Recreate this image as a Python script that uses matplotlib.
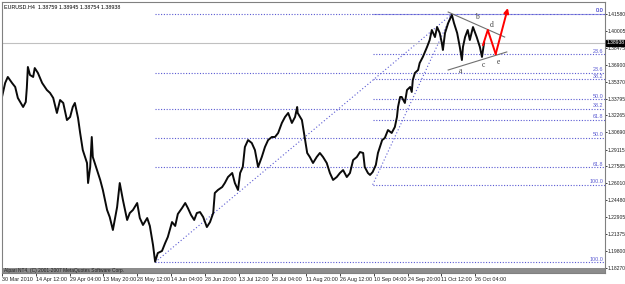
import matplotlib
matplotlib.use("Agg")
import matplotlib.pyplot as plt

plt.rcParams['font.family'] = ['Liberation Sans', 'DejaVu Sans']
fs = 3.9

# EURUSD H4 closes (bar index, price)
bars = [0, 6, 11, 19, 25, 30, 38, 40, 45, 47, 49, 53, 59, 62, 68, 76, 85, 91, 97, 104,
        110, 116, 123, 129, 134, 138, 144, 148, 153, 161, 163, 167, 170, 172, 180, 186, 191, 199, 204, 210,
        218, 223, 229, 237, 242, 248, 256, 261, 267, 275, 280, 286, 290, 295, 303, 309, 314, 322, 328, 333,
        341, 347, 352, 358, 364, 369, 375, 381, 388, 394, 400, 403, 409, 417, 422, 428, 436, 441, 447, 451,
        456, 460, 466, 473, 479, 485, 492, 498, 504, 511, 517, 523, 530, 536, 542, 549, 555, 559, 560, 568,
        572, 578, 583, 589, 596, 602, 608, 615, 621, 627, 634, 640, 646, 653, 659, 665, 672, 678, 684, 687,
        693, 697, 702, 708, 712, 720, 725, 731, 738, 744, 748, 750, 754, 757, 763, 767, 773, 776, 778, 782,
        788, 791, 797, 805, 810, 814, 820, 824, 829, 833, 835, 839, 845, 852, 856, 862, 867, 871, 873, 877,
        882, 886, 892, 899, 905, 909, 913]
closes = [1.3395, 1.3524, 1.3579, 1.3524, 1.3487, 1.3386, 1.3321, 1.3303, 1.3349, 1.3478, 1.3671, 1.3597, 1.3579, 1.3661, 1.3616, 1.3524, 1.3459, 1.3432, 1.3386, 1.3248,
          1.3367, 1.3340, 1.3183, 1.3211, 1.3303, 1.3340, 1.3202, 1.3064, 1.2907, 1.2788, 1.2604, 1.2751, 1.3027, 1.2843, 1.2723, 1.2632, 1.2540, 1.2356, 1.2291, 1.2172,
          1.2383, 1.2604, 1.2448, 1.2264, 1.2328, 1.2356, 1.2420, 1.2282, 1.2218, 1.2282, 1.2209, 1.2034, 1.1880, 1.1960, 1.1979, 1.2052, 1.2107, 1.2245, 1.2209, 1.2319,
          1.2374, 1.2420, 1.2374, 1.2310, 1.2264, 1.2328, 1.2337, 1.2291, 1.2199, 1.2245, 1.2328, 1.2512, 1.2540, 1.2567, 1.2604, 1.2659, 1.2696, 1.2604, 1.2540, 1.2696,
          1.2751, 1.2935, 1.2999, 1.2972, 1.2907, 1.2751, 1.2843, 1.2935, 1.2999, 1.3027, 1.3027, 1.3064, 1.3156, 1.3211, 1.3248, 1.3156, 1.3211, 1.3303, 1.3248, 1.3183,
          1.3064, 1.2880, 1.2843, 1.2788, 1.2843, 1.2880, 1.2843, 1.2788, 1.2696, 1.2632, 1.2659, 1.2696, 1.2723, 1.2659, 1.2696, 1.2815, 1.2843, 1.2889, 1.2880, 1.2751,
          1.2696, 1.2678, 1.2705, 1.2770, 1.2880, 1.2999, 1.3018, 1.3091, 1.3064, 1.3119, 1.3211, 1.3303, 1.3395, 1.3395, 1.3340, 1.3459, 1.3487, 1.3441, 1.3551, 1.3616,
          1.3643, 1.3707, 1.3763, 1.3855, 1.3919, 1.4011, 1.3946, 1.4038, 1.3983, 1.3891, 1.3827, 1.3983, 1.4075, 1.4150, 1.4075, 1.3983, 1.3855, 1.3735, 1.3855, 1.3946,
          1.4011, 1.3919, 1.4038, 1.3946, 1.3855, 1.3763, 1.3894]

title_txt = "EURUSD.H4  1.38759 1.38945 1.38754 1.38938"
last_price = 1.38938
price_ticks = [1.41580, 1.40005, 1.38475, 1.36900, 1.35370, 1.33795, 1.32265, 1.30690,
               1.29115, 1.27585, 1.26010, 1.24480, 1.22905, 1.21375, 1.19800, 1.18270]
date_ticks = [0, 64, 128, 192, 256, 320, 384, 448, 512, 576, 640, 704, 768, 832, 896]
date_labels = ["30 Mar 2010", "14 Apr 12:00", "29 Apr 04:00", "13 May 20:00", "28 May 12:00",
               "14 Jun 04:00", "28 Jun 20:00", "13 Jul 12:00", "28 Jul 04:00", "11 Aug 20:00",
               "26 Aug 12:00", "10 Sep 04:00", "24 Sep 20:00", "11 Oct 12:00", "26 Oct 04:00"]

# fibonacci retracements: (start bar, low) -> (end bar, high)
fib_levels = [0.0, 23.6, 38.2, 50.0, 61.8, 100.0]
fib1 = (290, 1.1876, 852, 1.4157)
fib2 = (702, 1.2588, 852, 1.4157)

# triangle a-b-c-d-e
tri_upper = ([845, 952], [1.4176, 1.3946])
tri_lower = ([845, 956], [1.3643, 1.3809])
wave_names = ["a", "b", "c", "d", "e"]
wave_bars = [869, 899, 911, 928, 941]
wave_prices = [1.3634, 1.4130, 1.3689, 1.4057, 1.3716]
proj_bars = [911, 920, 935, 958]
proj_prices = [1.3873, 1.4011, 1.3790, 1.4213]

fig = plt.figure(figsize=(6.25, 2.84), dpi=100)
ax = fig.add_axes([2 / 625, 11 / 284, 603 / 625, 271 / 284])
ax.set_xlim(0, 1142)
ax.set_ylim(1.17765, 1.42683)

fibc = '#5a5ad2'
for (b0, p0, b1, p1) in [fib1, fib2]:
    ax.plot([b0, b1], [p0, p1], ls=(0, (1, 2)), color=fibc, lw=0.8)
    for lv in fib_levels:
        y = p1 - (p1 - p0) * lv / 100
        ax.plot([b0, 1142], [y, y], ls=(0, (1, 1.5)), color=fibc, lw=0.8)
        ax.text(1139, y + 0.0006, "%.1f" % lv, ha='right', va='bottom', fontsize=fs, color=fibc)

# current price line
ax.axhline(last_price, color='#c0c0c0', lw=0.8)

ax.plot(bars, closes, color='#0a0a0a', lw=1.4)

ax.plot(*tri_upper, color='#707070', lw=0.8)
ax.plot(*tri_lower, color='#707070', lw=0.8)
for n, b, p in zip(wave_names, wave_bars, wave_prices):
    ax.text(b, p, n, ha='center', va='center', fontsize=5.5, color='#404040', family='Liberation Serif')

ax.plot(proj_bars[:-1], proj_prices[:-1], color='red', lw=1.4)
ax.annotate('', xy=(proj_bars[-1], proj_prices[-1]), xytext=(proj_bars[-2], proj_prices[-2]),
            arrowprops=dict(arrowstyle='-|>', color='red', lw=1.4, mutation_scale=7, shrinkA=0, shrinkB=0))

# bottom band with copyright
ax.axhspan(1.17765, 1.18225, color='#8c8c8c', lw=0)
ax.text(3, 1.1800, "Alpari NT4, (C) 2001-2007 MetaQuotes Software Corp.", fontsize=fs - 0.4,
        va='center', ha='left', color='#202020')
ax.text(3, 1.4218, title_txt, fontsize=fs, va='center', ha='left', color='black')

ax.yaxis.tick_right()
ax.set_yticks(price_ticks)
ax.set_yticklabels(["%.5f" % v for v in price_ticks])
ax.set_xticks(date_ticks)
ax.set_xticklabels(date_labels, ha='left')
ax.tick_params(axis='x', labelsize=fs, length=2, width=0.6, pad=1, colors='#202020')
ax.tick_params(axis='y', labelsize=3.6, length=1.5, width=0.6, pad=0.5, colors='#202020')
ax.annotate("%.5f" % last_price, xy=(1.0, last_price), xycoords=('axes fraction', 'data'),
            xytext=(1.0, 0), textcoords='offset points', va='center', ha='left', fontsize=3.6,
            color='white', bbox=dict(boxstyle='square,pad=0.1', fc='black', ec='black'))

for s in ax.spines.values():
    s.set_color('#808080')
    s.set_linewidth(0.8)

fig.savefig("out.png", dpi=100)
